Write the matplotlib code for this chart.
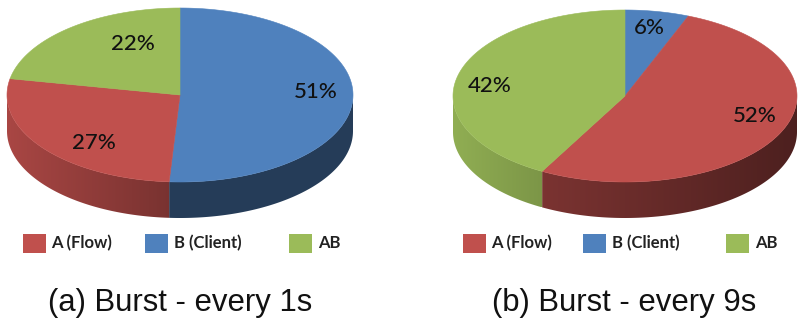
import numpy as np
import matplotlib
matplotlib.use("Agg")
import matplotlib.pyplot as plt
from matplotlib.patches import Polygon, Rectangle
from matplotlib.colors import LinearSegmentedColormap, to_rgb

W, H = 800, 324
categories = ["A (Flow)", "B (Client)", "AB"]
colors = {"A (Flow)": "#C0504D", "B (Client)": "#4F81BD", "AB": "#9BBB59"}

# values clockwise from 12 o'clock
order_a = ["B (Client)", "A (Flow)", "AB"]
values_a = [51, 27, 22]
order_b = ["B (Client)", "A (Flow)", "AB"]
values_b = [6, 52, 42]
caption_a = "(a) Burst - every 1s"
caption_b = "(b) Burst - every 9s"

fig = plt.figure(figsize=(W / 100, H / 100), dpi=100)
ax = fig.add_axes([0, 0, 1, 1])
ax.axis("off")


def shade(hexcol, f):
    return tuple(c * f for c in to_rgb(hexcol))


def pie3d(order, values, cx, cy, rx, ry, depth, shades, labelpos):
    total = sum(values)
    start = 0.0
    for name, v, (s0, s1), lp in zip(order, values, shades, labelpos):
        end = start + v / total * 2 * np.pi
        col = colors[name]
        a0, a1 = max(start, np.pi / 2), min(end, 3 * np.pi / 2)
        if a1 > a0:
            th = np.linspace(a0, a1, 200)
            xs = cx + rx * np.sin(th)
            ys = cy - ry * np.cos(th)
            outline = list(zip(xs, ys)) + list(zip(xs[::-1], ys[::-1] + depth))
            clip = Polygon(outline, closed=True, transform=ax.transData, fc="none", ec="none")
            ax.add_patch(clip)
            cmap = LinearSegmentedColormap.from_list("s", [shade(col, s0), shade(col, s1)])
            # s0 belongs to the left edge of the wall, s1 to the right edge
            im = ax.imshow(np.linspace(0, 1, 256)[None, :], cmap=cmap, aspect="auto",
                           extent=(xs.min(), xs.max(), ys.max() + depth, ys.min()),
                           zorder=2, interpolation="bilinear")
            im.set_clip_path(clip)
        th = np.linspace(start, end, 200)
        pts = [(cx, cy)] + list(zip(cx + rx * np.sin(th), cy - ry * np.cos(th)))
        ax.add_patch(Polygon(pts, closed=True, fc=col, ec=col, lw=0.4, zorder=3))
        ax.text(lp[0], lp[1], f"{v}%", ha="center", va="center", fontsize=16,
                family="Lato", fontweight="medium", color="#111111", zorder=4)
        start = end


pie3d(order_a, values_a, 180, 95, 173, 87, 36,
      [(0.47, 0.47), (0.88, 0.63), (0.9, 0.9)],
      [(316, 92), (94, 143), (133, 44)])
pie3d(order_b, values_b, 625, 96, 172, 86, 36,
      [(0.5, 0.5), (0.64, 0.40), (0.93, 0.80)],
      [(649, 28), (755, 116), (490, 86)])


def legend(xs_box, xs_txt):
    for name, xb, xt in zip(categories, xs_box, xs_txt):
        ax.add_patch(Rectangle((xb, 234), 23, 19, fc=colors[name], ec="none", zorder=3))
        ax.text(xt, 243.5, name, ha="left", va="center", fontsize=12,
                family="Lato", fontweight="bold", color="#222222")


legend([23, 145, 289], [51, 174, 318])
legend([463, 583, 726], [491, 612, 755])

ax.text(180, 303, caption_a, ha="center", va="center", fontsize=22.4,
        family="Liberation Sans", color="#111111")
ax.text(624, 303, caption_b, ha="center", va="center", fontsize=22.4,
        family="Liberation Sans", color="#111111")

ax.set_xlim(0, W)
ax.set_ylim(H, 0)
fig.savefig("out.png", dpi=100)
